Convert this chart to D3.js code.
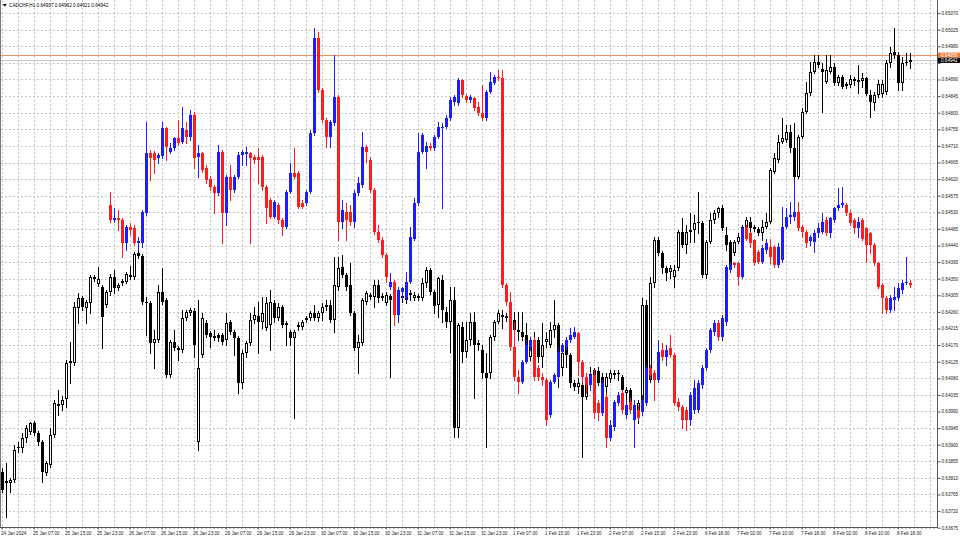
<!DOCTYPE html>
<html><head><meta charset="utf-8">
<script src="https://cdn.jsdelivr.net/npm/d3@7"></script>
<style>body{margin:0;background:#fff}svg{display:block;font-family:"Liberation Sans",Arial,sans-serif}</style>
</head><body><svg id="c" width="960" height="540"></svg>
<script>
const chartTitle = "CADCHF,H1 0.64937 0.64962 0.64921 0.64942";
const priceTicks = [0.63675,0.63720,0.63765,0.63810,0.63855,0.63900,0.63945,0.63990,0.64035,0.64080,0.64125,0.64170,0.64215,0.64260,0.64305,0.64350,0.64395,0.64440,0.64485,0.64530,0.64575,0.64620,0.64665,0.64710,0.64755,0.64800,0.64845,0.64890,0.64935,0.64980,0.65025,0.65070];
const timeLabels = ["24 Jan 2024","25 Jan 07:00","25 Jan 15:00","25 Jan 23:00","26 Jan 07:00","26 Jan 15:00","26 Jan 23:00","29 Jan 07:00","29 Jan 15:00","29 Jan 23:00","30 Jan 07:00","30 Jan 15:00","30 Jan 23:00","31 Jan 07:00","31 Jan 15:00","31 Jan 23:00","1 Feb 07:00","1 Feb 15:00","1 Feb 23:00","2 Feb 07:00","2 Feb 15:00","2 Feb 23:00","6 Feb 18:00","7 Feb 02:00","7 Feb 10:00","7 Feb 18:00","8 Feb 02:00","8 Feb 10:00","8 Feb 18:00"];
const askPrice = 0.64956, bidPrice = 0.64942;
// main CADCHF H1 candles [open, high, low, close]
const mainCandles = [
[0.63826,0.63837,0.63772,0.63777],[0.63796,0.63850,0.63704,0.63802],[0.63796,0.63810,0.63772,0.63804],[0.63804,0.63899,0.63799,0.63886],
[0.63894,0.63907,0.63880,0.63891],[0.63891,0.63932,0.63880,0.63918],[0.63918,0.63953,0.63907,0.63945],[0.63934,0.63962,0.63929,0.63959],
[0.63959,0.63964,0.63926,0.63932],[0.63932,0.63937,0.63899,0.63907],[0.63907,0.63913,0.63799,0.63826],[0.63823,0.63855,0.63818,0.63850],
[0.63845,0.63945,0.63839,0.63926],[0.63926,0.64021,0.63921,0.64013],[0.64010,0.64048,0.63980,0.64005],[0.64008,0.64032,0.63994,0.64021],
[0.64024,0.64130,0.64002,0.64121],[0.64121,0.64178,0.64067,0.64127],[0.64121,0.64287,0.64116,0.64273],[0.64270,0.64311,0.64230,0.64298],
[0.64298,0.64303,0.64265,0.64273],[0.64270,0.64292,0.64230,0.64287],[0.64284,0.64360,0.64257,0.64355],[0.64355,0.64360,0.64344,0.64349],
[0.64336,0.64382,0.64330,0.64349],[0.64327,0.64333,0.64162,0.64246],[0.64279,0.64319,0.64273,0.64314],[0.64314,0.64363,0.64306,0.64355],
[0.64355,0.64374,0.64311,0.64325],[0.64325,0.64338,0.64319,0.64333],[0.64338,0.64349,0.64333,0.64344],[0.64341,0.64368,0.64338,0.64363],
[0.64360,0.64384,0.64349,0.64355],[0.64355,0.64422,0.64349,0.64417],[0.64420,0.64428,0.64406,0.64412],[0.64412,0.64417,0.64281,0.64287],
[0.64287,0.64300,0.64197,0.64284],[0.64284,0.64290,0.64149,0.64176],[0.64176,0.64211,0.64108,0.64186],[0.64184,0.64333,0.64178,0.64314],
[0.64314,0.64379,0.64281,0.64287],[0.64292,0.64298,0.64084,0.64089],[0.64089,0.64184,0.64084,0.64178],[0.64178,0.64211,0.64157,0.64162],
[0.64162,0.64167,0.64130,0.64157],[0.64157,0.64265,0.64151,0.64243],[0.64243,0.64265,0.64238,0.64260],[0.64257,0.64270,0.64252,0.64265],
[0.64262,0.64270,0.64138,0.64170],[0.63907,0.64292,0.63886,0.64108],[0.64143,0.64257,0.64138,0.64243],[0.64230,0.64238,0.64192,0.64197],
[0.64203,0.64208,0.64165,0.64192],[0.64195,0.64211,0.64184,0.64189],[0.64197,0.64203,0.64181,0.64189],[0.64197,0.64203,0.64173,0.64178],
[0.64184,0.64257,0.64170,0.64230],[0.64233,0.64238,0.64200,0.64206],[0.64206,0.64211,0.64143,0.64189],[0.64189,0.64195,0.64040,0.64067],
[0.64067,0.64157,0.64054,0.64149],[0.64149,0.64181,0.64138,0.64176],[0.64176,0.64257,0.64170,0.64238],[0.64238,0.64273,0.64230,0.64252],
[0.64249,0.64287,0.64149,0.64233],[0.64233,0.64300,0.64216,0.64257],[0.64216,0.64300,0.64211,0.64284],[0.64225,0.64319,0.64157,0.64287],
[0.64284,0.64292,0.64233,0.64243],[0.64243,0.64284,0.64238,0.64273],[0.64273,0.64279,0.64219,0.64225],[0.64225,0.64235,0.64170,0.64230],
[0.64206,0.64211,0.64170,0.64189],[0.64189,0.64211,0.63972,0.64206],[0.64219,0.64233,0.64211,0.64225],[0.64219,0.64238,0.64214,0.64233],
[0.64238,0.64249,0.64233,0.64243],[0.64243,0.64262,0.64238,0.64257],[0.64257,0.64279,0.64238,0.64243],[0.64243,0.64262,0.64235,0.64257],
[0.64257,0.64284,0.64238,0.64273],[0.64273,0.64292,0.64265,0.64279],[0.64279,0.64292,0.64233,0.64238],[0.64238,0.64409,0.64206,0.64333],
[0.64327,0.64409,0.64319,0.64379],[0.64382,0.64414,0.64355,0.64360],[0.64360,0.64365,0.64319,0.64327],[0.64333,0.64392,0.64252,0.64257],
[0.64257,0.64262,0.64157,0.64162],[0.64162,0.64197,0.64094,0.64178],[0.64176,0.64298,0.64170,0.64292],[0.64287,0.64317,0.64281,0.64311],
[0.64300,0.64311,0.64295,0.64306],[0.64300,0.64346,0.64273,0.64333],[0.64333,0.64346,0.64287,0.64298],[0.64298,0.64311,0.64292,0.64303],
[0.64284,0.64314,0.64279,0.64306],[0.64303,0.64309,0.64084,0.64292],[0.64292,0.64325,0.64279,0.64314],[0.64292,0.64327,0.64287,0.64319],
[0.64303,0.64319,0.64287,0.64298],[0.64292,0.64319,0.64284,0.64311],[0.64311,0.64319,0.64292,0.64306],[0.64298,0.64314,0.64292,0.64306],
[0.64298,0.64309,0.64292,0.64303],[0.64298,0.64352,0.64292,0.64338],[0.64338,0.64382,0.64327,0.64374],[0.64374,0.64379,0.64309,0.64314],
[0.64314,0.64319,0.64257,0.64276],[0.64279,0.64355,0.64246,0.64352],[0.64346,0.64360,0.64233,0.64265],[0.64260,0.64273,0.64219,0.64233],
[0.64233,0.64327,0.64151,0.64292],[0.64292,0.64327,0.63921,0.63945],[0.63945,0.64230,0.63921,0.64225],[0.64219,0.64233,0.64124,0.64151],
[0.64151,0.64233,0.64138,0.64184],[0.64184,0.64257,0.64170,0.64233],[0.64233,0.64260,0.64027,0.64170],[0.64170,0.64184,0.64157,0.64176],
[0.64157,0.64170,0.64081,0.64094],[0.64094,0.64149,0.63894,0.64081],[0.64094,0.64197,0.64081,0.64192],[0.64192,0.64238,0.64184,0.64233],
[0.64233,0.64265,0.64230,0.64257],[0.64252,0.64265,0.64216,0.64246],[0.64243,0.64257,0.64235,0.64249],[0.64246,0.64257,0.64233,0.64238],
[0.64238,0.64260,0.64203,0.64211],[0.64211,0.64260,0.64184,0.64206],[0.64206,0.64260,0.64184,0.64192],[0.64197,0.64230,0.64121,0.64138],
[0.64138,0.64192,0.64130,0.64170],[0.64170,0.64206,0.64165,0.64184],[0.64184,0.64192,0.64124,0.64138],[0.64138,0.64230,0.64111,0.64170],
[0.64178,0.64206,0.64165,0.64186],[0.64170,0.64233,0.64165,0.64211],[0.64211,0.64292,0.64192,0.64225],[0.64225,0.64230,0.64056,0.64108],
[0.64108,0.64157,0.64089,0.64149],[0.64170,0.64176,0.64111,0.64143],[0.64143,0.64149,0.64056,0.64067],[0.64067,0.64075,0.64048,0.64056],
[0.64056,0.64081,0.64040,0.64067],[0.64062,0.64067,0.63867,0.64030],[0.64030,0.64089,0.64024,0.64084],[0.64084,0.64111,0.64075,0.64092],
[0.64084,0.64108,0.64070,0.64102],[0.64100,0.64111,0.64062,0.64067],[0.64084,0.64094,0.64056,0.64065],[0.64056,0.64094,0.64040,0.64084],
[0.64078,0.64102,0.64070,0.64094],[0.64089,0.64102,0.64081,0.64094],[0.64094,0.64102,0.64075,0.64092],[0.64084,0.64089,0.64030,0.64048],
[0.64040,0.64056,0.64021,0.64048],[0.64048,0.64054,0.63986,0.63994],[0.63999,0.64008,0.63972,0.63989],[0.63972,0.64021,0.63959,0.64013],
[0.64013,0.64298,0.64002,0.64279],[0.64279,0.64292,0.64075,0.64084],[0.64075,0.64355,0.64070,0.64338],[0.64338,0.64463,0.64327,0.64455],
[0.64455,0.64463,0.64414,0.64420],[0.64420,0.64425,0.64365,0.64379],[0.64379,0.64384,0.64346,0.64365],[0.64368,0.64387,0.64352,0.64379],
[0.64355,0.64387,0.64327,0.64374],[0.64379,0.64482,0.64374,0.64477],[0.64477,0.64515,0.64436,0.64441],[0.64441,0.64496,0.64420,0.64477],
[0.64477,0.64528,0.64449,0.64482],[0.64482,0.64523,0.64449,0.64501],[0.64501,0.64585,0.64474,0.64504],[0.64501,0.64506,0.64355,0.64360],
[0.64360,0.64455,0.64352,0.64449],[0.64449,0.64528,0.64447,0.64509],[0.64509,0.64536,0.64501,0.64528],[0.64528,0.64544,0.64517,0.64542],
[0.64542,0.64550,0.64482,0.64487],[0.64468,0.64490,0.64428,0.64441],[0.64449,0.64455,0.64382,0.64387],[0.64420,0.64455,0.64414,0.64449],
[0.64449,0.64474,0.64447,0.64463],[0.64463,0.64496,0.64455,0.64490],[0.64487,0.64517,0.64482,0.64509],[0.64504,0.64517,0.64474,0.64487],
[0.64490,0.64496,0.64479,0.64485],[0.64485,0.64490,0.64468,0.64474],[0.64474,0.64509,0.64455,0.64490],[0.64490,0.64528,0.64487,0.64504],
[0.64504,0.64650,0.64501,0.64645],[0.64639,0.64691,0.64637,0.64677],[0.64672,0.64740,0.64666,0.64721],[0.64721,0.64786,0.64718,0.64731],
[0.64726,0.64767,0.64721,0.64748],[0.64748,0.64767,0.64694,0.64704],[0.64704,0.64772,0.64618,0.64626],[0.64626,0.64740,0.64623,0.64734],
[0.64734,0.64813,0.64731,0.64802],[0.64802,0.64883,0.64799,0.64853],[0.64853,0.64937,0.64848,0.64910],[0.64910,0.64956,0.64908,0.64937],
[0.64937,0.64956,0.64924,0.64929],[0.64918,0.64935,0.64802,0.64910],[0.64883,0.64956,0.64880,0.64916],[0.64910,0.64956,0.64908,0.64924],
[0.64924,0.64935,0.64875,0.64880],[0.64880,0.64902,0.64875,0.64897],[0.64897,0.64902,0.64867,0.64870],[0.64872,0.64883,0.64867,0.64878],
[0.64875,0.64902,0.64870,0.64891],[0.64891,0.64897,0.64875,0.64886],[0.64889,0.64929,0.64853,0.64883],[0.64886,0.64908,0.64870,0.64894],
[0.64894,0.64897,0.64848,0.64851],[0.64848,0.64862,0.64788,0.64829],[0.64826,0.64856,0.64807,0.64848],[0.64848,0.64889,0.64843,0.64878],
[0.64851,0.64889,0.64843,0.64878],[0.64856,0.64943,0.64851,0.64935],[0.64935,0.64978,0.64924,0.64962],[0.64965,0.65030,0.64948,0.64956],
[0.64956,0.64965,0.64862,0.64880],[0.64880,0.64951,0.64862,0.64935],[0.64935,0.64962,0.64929,0.64937],[0.64937,0.64962,0.64921,0.64942]
];
// overlay symbol candles, starting at bar 27 [open, high, low, close]
const overlayStart = 27;
const overlayCandles = [
[0.64550,0.64585,0.64504,0.64509],[0.64509,0.64542,0.64504,0.64515],[0.64515,0.64536,0.64482,0.64509],[0.64509,0.64515,0.64409,0.64447],
[0.64447,0.64496,0.64428,0.64490],[0.64490,0.64501,0.64468,0.64482],[0.64487,0.64496,0.64441,0.64447],[0.64447,0.64463,0.64428,0.64452],
[0.64447,0.64536,0.64436,0.64531],[0.64528,0.64775,0.64523,0.64691],[0.64691,0.64699,0.64618,0.64677],[0.64691,0.64696,0.64637,0.64672],
[0.64677,0.64691,0.64664,0.64685],[0.64683,0.64775,0.64677,0.64758],[0.64758,0.64761,0.64672,0.64707],[0.64694,0.64718,0.64691,0.64704],
[0.64704,0.64734,0.64699,0.64731],[0.64731,0.64780,0.64713,0.64718],[0.64721,0.64815,0.64718,0.64758],[0.64753,0.64775,0.64718,0.64734],
[0.64734,0.64807,0.64726,0.64794],[0.64794,0.64802,0.64650,0.64677],[0.64680,0.64712,0.64626,0.64691],[0.64691,0.64694,0.64639,0.64645],
[0.64650,0.64658,0.64610,0.64618],[0.64621,0.64629,0.64591,0.64599],[0.64599,0.64604,0.64528,0.64583],[0.64583,0.64712,0.64577,0.64694],
[0.64694,0.64699,0.64447,0.64528],[0.64528,0.64632,0.64496,0.64626],[0.64626,0.64658,0.64563,0.64591],[0.64591,0.64632,0.64585,0.64626],
[0.64626,0.64694,0.64623,0.64685],[0.64685,0.64699,0.64658,0.64694],[0.64688,0.64707,0.64658,0.64694],[0.64691,0.64694,0.64447,0.64677],
[0.64680,0.64685,0.64664,0.64672],[0.64680,0.64704,0.64610,0.64672],[0.64680,0.64685,0.64591,0.64599],[0.64599,0.64604,0.64501,0.64542],
[0.64563,0.64569,0.64515,0.64517],[0.64517,0.64563,0.64515,0.64558],[0.64550,0.64555,0.64501,0.64509],[0.64509,0.64515,0.64468,0.64490],
[0.64490,0.64591,0.64487,0.64585],[0.64585,0.64664,0.64583,0.64637],[0.64637,0.64704,0.64623,0.64626],[0.64637,0.64642,0.64542,0.64544],
[0.64555,0.64563,0.64542,0.64544],[0.64555,0.64591,0.64550,0.64585],[0.64585,0.64753,0.64583,0.64745],[0.64745,0.65030,0.64740,0.65003],
[0.65003,0.65019,0.64856,0.64862],[0.64862,0.64867,0.64775,0.64780],[0.64780,0.64786,0.64707,0.64734],[0.64734,0.64780,0.64707,0.64775],
[0.64772,0.64956,0.64767,0.64843],[0.64843,0.64848,0.64455,0.64504],[0.64504,0.64563,0.64487,0.64536],[0.64531,0.64555,0.64455,0.64509],
[0.64531,0.64550,0.64496,0.64504],[0.64504,0.64591,0.64490,0.64583],[0.64583,0.64626,0.64577,0.64610],[0.64604,0.64748,0.64599,0.64707],
[0.64707,0.64712,0.64666,0.64694],[0.64672,0.64680,0.64585,0.64591],[0.64591,0.64596,0.64471,0.64477],[0.64477,0.64496,0.64449,0.64455],
[0.64455,0.64463,0.64409,0.64414],[0.64414,0.64420,0.64341,0.64355],[0.64327,0.64365,0.64322,0.64341],[0.64341,0.64346,0.64225,0.64252],
[0.64252,0.64327,0.64233,0.64319],[0.64314,0.64327,0.64298,0.64325],[0.64298,0.64368,0.64292,0.64341],[0.64341,0.64490,0.64338,0.64463],
[0.64458,0.64569,0.64455,0.64555],[0.64555,0.64745,0.64550,0.64694],[0.64694,0.64745,0.64691,0.64740],[0.64694,0.64721,0.64650,0.64710],
[0.64710,0.64718,0.64699,0.64704],[0.64704,0.64740,0.64699,0.64734],[0.64734,0.64775,0.64731,0.64761],[0.64758,0.64772,0.64542,0.64761],
[0.64761,0.64794,0.64758,0.64786],[0.64786,0.64843,0.64780,0.64834],[0.64829,0.64848,0.64821,0.64843],[0.64826,0.64894,0.64821,0.64889],
[0.64889,0.64891,0.64843,0.64848],[0.64846,0.64851,0.64829,0.64835],[0.64834,0.64848,0.64829,0.64843],[0.64840,0.64843,0.64807,0.64813],
[0.64815,0.64829,0.64794,0.64799],[0.64799,0.64875,0.64780,0.64786],[0.64786,0.64862,0.64780,0.64856],[0.64856,0.64910,0.64853,0.64883],
[0.64880,0.64902,0.64878,0.64897],[0.64897,0.64916,0.64889,0.64894],[0.64894,0.64916,0.64327,0.64333],[0.64333,0.64338,0.64279,0.64287],
[0.64287,0.64314,0.64157,0.64165],[0.64165,0.64233,0.64075,0.64084],[0.64084,0.64102,0.64040,0.64070],[0.64070,0.64130,0.64067,0.64124],
[0.64124,0.64184,0.64121,0.64170],[0.64165,0.64192,0.64157,0.64184],[0.64184,0.64192,0.64075,0.64084],[0.64108,0.64116,0.64075,0.64084],
[0.64084,0.64094,0.64062,0.64075],[0.64075,0.64081,0.63953,0.63967],[0.63980,0.64075,0.63975,0.64070],[0.64070,0.64094,0.64067,0.64089],
[0.64084,0.64165,0.64081,0.64151],[0.64151,0.64176,0.64149,0.64170],[0.64165,0.64192,0.64157,0.64184],[0.64184,0.64216,0.64178,0.64197],
[0.64192,0.64219,0.64189,0.64206],[0.64203,0.64206,0.64089,0.64124],[0.64124,0.64130,0.64070,0.64084],[0.64084,0.64094,0.64040,0.64062],
[0.64062,0.64097,0.64048,0.64089],[0.64089,0.64102,0.63972,0.63986],[0.64013,0.64021,0.63967,0.63986],[0.63986,0.64075,0.63980,0.64067],
[0.64030,0.64040,0.63894,0.63918],[0.63918,0.63967,0.63913,0.63953],[0.63948,0.64021,0.63940,0.64016],[0.64013,0.64043,0.64008,0.64035],
[0.64040,0.64048,0.63986,0.63994],[0.63980,0.64021,0.63972,0.64008],[0.64016,0.64027,0.63986,0.63994],[0.63967,0.64021,0.63894,0.64008],
[0.63994,0.64008,0.63967,0.63972],[0.63989,0.64035,0.63980,0.64021],[0.64013,0.64116,0.64008,0.64108],[0.64108,0.64116,0.64081,0.64089],
[0.64094,0.64102,0.64021,0.64075],[0.64075,0.64184,0.64070,0.64151],[0.64157,0.64176,0.64130,0.64138],[0.64138,0.64170,0.64116,0.64157],
[0.64162,0.64197,0.64138,0.64143],[0.64143,0.64149,0.64008,0.64013],[0.64016,0.64027,0.63994,0.64002],[0.64002,0.64008,0.63945,0.63967],
[0.63994,0.64002,0.63940,0.63967],[0.63967,0.64043,0.63953,0.64035],[0.63994,0.64075,0.63986,0.64054],[0.63994,0.64075,0.63989,0.64067],
[0.64062,0.64116,0.64054,0.64108],[0.64108,0.64162,0.64102,0.64157],[0.64157,0.64216,0.64151,0.64211],[0.64206,0.64238,0.64197,0.64230],
[0.64230,0.64238,0.64184,0.64192],[0.64192,0.64252,0.64184,0.64243],[0.64233,0.64387,0.64225,0.64382],[0.64374,0.64395,0.64368,0.64387],
[0.64392,0.64395,0.64382,0.64387],[0.64392,0.64395,0.64333,0.64355],[0.64355,0.64490,0.64352,0.64487],[0.64490,0.64496,0.64455,0.64458],
[0.64474,0.64477,0.64436,0.64447],[0.64455,0.64458,0.64387,0.64392],[0.64422,0.64428,0.64392,0.64395],[0.64395,0.64441,0.64392,0.64433],
[0.64428,0.64458,0.64420,0.64447],[0.64436,0.64458,0.64392,0.64409],[0.64436,0.64441,0.64382,0.64387],[0.64387,0.64447,0.64382,0.64436],
[0.64401,0.64544,0.64395,0.64490],[0.64490,0.64542,0.64487,0.64517],[0.64517,0.64558,0.64501,0.64523],[0.64517,0.64618,0.64509,0.64531],
[0.64531,0.64558,0.64482,0.64487],[0.64490,0.64496,0.64463,0.64477],[0.64477,0.64482,0.64436,0.64447],[0.64452,0.64468,0.64441,0.64463],
[0.64449,0.64482,0.64422,0.64474],[0.64474,0.64501,0.64463,0.64487],[0.64477,0.64528,0.64474,0.64504],[0.64509,0.64517,0.64468,0.64474],
[0.64474,0.64517,0.64463,0.64515],[0.64509,0.64544,0.64504,0.64542],[0.64542,0.64596,0.64536,0.64550],[0.64550,0.64599,0.64544,0.64555],
[0.64550,0.64555,0.64523,0.64528],[0.64528,0.64536,0.64496,0.64501],[0.64509,0.64515,0.64474,0.64487],[0.64487,0.64517,0.64463,0.64504],
[0.64509,0.64515,0.64455,0.64458],[0.64487,0.64490,0.64395,0.64441],[0.64474,0.64477,0.64420,0.64441],[0.64441,0.64447,0.64387,0.64392],
[0.64392,0.64395,0.64325,0.64327],[0.64333,0.64338,0.64257,0.64298],[0.64298,0.64303,0.64257,0.64265],[0.64265,0.64306,0.64260,0.64298],
[0.64292,0.64327,0.64265,0.64300],[0.64298,0.64338,0.64292,0.64325],[0.64319,0.64346,0.64311,0.64338],[0.64338,0.64409,0.64336,0.64341],
[0.64338,0.64346,0.64327,0.64333]
];

const svg = d3.select("#c");
const plotRight = 937, plotBottom = 527.5;
const lastBar = mainCandles.length - 1;
const x = d3.scaleLinear().domain([0, lastBar]).range([1.7, 909.7]);
const y = d3.scaleLinear().domain([0.63675, 0.65070]).range([527.7, 13.1]);
const FS = 4.6;

// grid
const grid = svg.append("g").attr("stroke", "#c6c6c6").attr("stroke-dasharray", "2,2").attr("shape-rendering", "crispEdges");
grid.selectAll("line.h").data(priceTicks).join("line").attr("class","h")
  .attr("x1", 1).attr("x2", plotRight).attr("y1", d => Math.round(y(d)) + 0.5).attr("y2", d => Math.round(y(d)) + 0.5);
grid.selectAll("line.v").data(d3.range(0, 233, 4)).join("line").attr("class","v")
  .attr("x1", d => Math.round(x(d)) + 0.5).attr("x2", d => Math.round(x(d)) + 0.5).attr("y1", 0).attr("y2", plotBottom);

// ask / bid lines
svg.append("line").attr("x1", 1).attr("x2", plotRight).attr("y1", Math.round(y(askPrice)) + 0.5).attr("y2", Math.round(y(askPrice)) + 0.5)
  .attr("stroke", "#ec9460").attr("shape-rendering", "crispEdges");
svg.append("line").attr("x1", 1).attr("x2", plotRight).attr("y1", Math.round(y(bidPrice)) + 0.5).attr("y2", Math.round(y(bidPrice)) + 0.5)
  .attr("stroke", "#c8c8c8").attr("shape-rendering", "crispEdges");

function drawCandles(data, offset, kind) {
  const g = svg.append("g").attr("shape-rendering", "crispEdges");
  data.forEach((d, i) => {
    const [o, h, l, c] = d;
    const cx = Math.round(x(i + offset));
    const up = c >= o;
    const col = kind === "main" ? "#000" : (up ? "#1c1cff" : "#ff1c1c");
    g.append("line").attr("x1", cx + 0.5).attr("x2", cx + 0.5)
      .attr("y1", Math.round(y(h))).attr("y2", Math.round(y(l)) + 1).attr("stroke", col);
    const top = Math.round(y(Math.max(o, c))), bot = Math.round(y(Math.min(o, c)));
    if (kind === "main" && up) {
      if (bot - top < 2) {
        g.append("rect").attr("x", cx - 1).attr("y", top).attr("width", 3).attr("height", Math.max(bot - top, 1)).attr("fill", "#000");
      } else {
        g.append("rect").attr("x", cx - 0.5).attr("y", top + 0.5).attr("width", 2).attr("height", bot - top - 1)
          .attr("fill", "#fff").attr("stroke", "#000");
      }
    } else {
      g.append("rect").attr("x", cx - 1).attr("y", top).attr("width", 3).attr("height", Math.max(bot - top, 1)).attr("fill", col);
    }
  });
}
drawCandles(mainCandles, 0, "main");
drawCandles(overlayCandles, overlayStart, "overlay");

// frame
svg.append("line").attr("x1", 0.5).attr("x2", 0.5).attr("y1", 0).attr("y2", plotBottom).attr("stroke", "#777").attr("shape-rendering", "crispEdges");
svg.append("line").attr("x1", plotRight + 0.5).attr("x2", plotRight + 0.5).attr("y1", 0).attr("y2", plotBottom + 0.5).attr("stroke", "#555").attr("shape-rendering", "crispEdges");
svg.append("line").attr("x1", 0).attr("x2", plotRight + 1).attr("y1", plotBottom).attr("y2", plotBottom).attr("stroke", "#555").attr("shape-rendering", "crispEdges");

// right price axis (labels hidden behind the price tags are left out)
const hiddenNear = p => Math.abs(y(p) - y(bidPrice)) < 4.5 || Math.abs(y(p) - y(askPrice)) < 4.5;
const yAxis = svg.append("g").attr("transform", `translate(${plotRight + 0.5},0)`)
  .call(d3.axisRight(y).tickValues(priceTicks).tickFormat(d => hiddenNear(d) ? "" : d3.format(".5f")(d)).tickSize(3).tickPadding(1).tickSizeOuter(0));
yAxis.select(".domain").remove();
yAxis.selectAll("line").attr("stroke", "#555");
yAxis.selectAll("text").attr("font-size", FS).attr("fill", "#222").attr("font-family", "Liberation Sans, Arial, sans-serif");

// bottom time axis
const tickBars = timeLabels.map((t, i) => i * 8);
const xAxis = svg.append("g").attr("transform", `translate(0,${plotBottom})`)
  .call(d3.axisBottom(x).tickValues(tickBars).tickFormat((d, i) => timeLabels[i]).tickSize(2).tickSizeOuter(0));
xAxis.select(".domain").remove();
xAxis.selectAll("line").attr("stroke", "#555");
xAxis.selectAll("text").attr("font-size", FS).attr("fill", "#222").attr("text-anchor", "start")
  .attr("x", -1.2).attr("y", 4.3).attr("font-family", "Liberation Sans, Arial, sans-serif");

// price tags
function priceTag(p, bg) {
  const yy = y(p);
  svg.append("rect").attr("x", plotRight + 1).attr("y", yy - 2.6).attr("width", 22).attr("height", 5.2).attr("fill", bg);
  svg.append("text").attr("x", plotRight + 4).attr("y", yy).attr("dy", "0.35em").attr("font-size", FS).attr("fill", "#fff")
    .text(d3.format(".5f")(p));
}
priceTag(askPrice, "#f07a3a");
priceTag(bidPrice, "#000");

// title
svg.append("path").attr("d", "M2.8,4 L6.8,4 L4.8,6.8 Z").attr("fill", "#000");
svg.append("text").attr("x", 9).attr("y", 6.6).attr("font-size", 4.7).attr("fill", "#000").text(chartTitle);
</script>
</body></html>
